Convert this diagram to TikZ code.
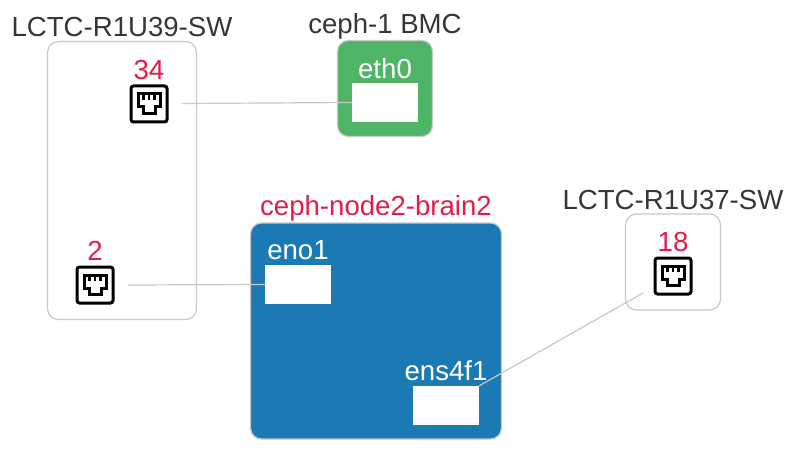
\documentclass[tikz,border=0pt]{standalone}
\usepackage{fontspec}
\setmainfont{Liberation Sans}
\definecolor{greyline}{HTML}{C8C8C8}
\definecolor{darktext}{HTML}{363636}
\definecolor{redtext}{HTML}{E21D4D}
\definecolor{greenbox}{HTML}{4FB566}
\definecolor{bluebox}{HTML}{1B7AB3}
\newcommand{\lbl}{\fontsize{27.6}{30}\selectfont}
\tikzset{
  x=1pt,y=-1pt,
  title/.style={font=\lbl,text=darktext,inner sep=0pt},
  rednum/.style={font=\lbl,text=redtext,inner sep=0pt},
  whitelbl/.style={font=\lbl,text=white,inner sep=0pt},
  port/.style={fill=white,draw=none,minimum width=66pt,minimum height=39pt,inner sep=0pt},
  link/.style={draw=greyline,line width=1.2pt},
  jackbox/.style={draw=black,fill=white,line width=3pt,rounded corners=2.5pt,minimum width=36pt,minimum height=36pt,inner sep=0pt},
  pics/jack/.style={code={
    \draw[black,line width=3pt,line join=miter]
      (-11,-10) -- (11,-10) -- (11,3) -- (6,3) -- (6,9.5) -- (-6,9.5) -- (-6,3) -- (-11,3) -- cycle;
    \draw[black,line width=2.2pt] (-5.5,-10) -- (-5.5,-4) (0,-10) -- (0,-4) (5.5,-10) -- (5.5,-4);
  }}
}
\begin{document}
\begin{tikzpicture}
\useasboundingbox (0,0) rectangle (791,465);
% containers
\node[draw=greyline,line width=1.2pt,rounded corners=11pt,minimum width=149pt,minimum height=278pt,inner sep=0pt] (sw39) at (122,180.5) {};
\node[draw=greyline,fill=greenbox,line width=1.2pt,rounded corners=11pt,minimum width=95pt,minimum height=96pt,inner sep=0pt] (bmc) at (385,88.5) {};
\node[draw=greyline,fill=bluebox,line width=1.2pt,rounded corners=11pt,minimum width=251pt,minimum height=216pt,inner sep=0pt] (node2) at (376,331) {};
\node[draw=greyline,line width=1.2pt,rounded corners=11pt,minimum width=95pt,minimum height=96pt,inner sep=0pt] (sw37) at (673,262) {};
% titles
\node[title] (t39) at (122,27) {LCTC-R1U39-SW};
\node[title] (tbmc) at (385,26) {ceph-1 BMC};
\node[rednum] (tnode2) at (376,208) {ceph-node2-brain2};
\node[title] (t37) at (673,200) {LCTC-R1U37-SW};
% ports
\node[port] (eth0) at (385,102.5) {};
\node[whitelbl] (leth0) at (385,68.5) {eth0};
\node[port] (eno1) at (298,284.5) {};
\node[whitelbl] (leno1) at (298,250.5) {eno1};
\node[port] (ens) at (446,405.5) {};
\node[whitelbl] (lens) at (446,371) {ens4f1};
% switch ports
\node[rednum] (n34) at (149,70) {34};
\node[jackbox] (j34) at (149,104) {};
\pic at (j34.center) {jack};
\node[rednum] (n2) at (95,251) {2};
\node[jackbox] (j2) at (95,285) {};
\pic at (j2.center) {jack};
\node[rednum] (n18) at (673,242) {18};
\node[jackbox] (j18) at (673,276) {};
\pic at (j18.center) {jack};
% connectors
\coordinate (c34) at (182,103.5);
\coordinate (c2) at (128,285);
\coordinate (c18) at (643,293);
\draw[link] (c34) -- (eth0.west);
\draw[link] (c2) -- (eno1.west);
\draw[link] (c18) -- (ens.north east);
\end{tikzpicture}
\end{document}
